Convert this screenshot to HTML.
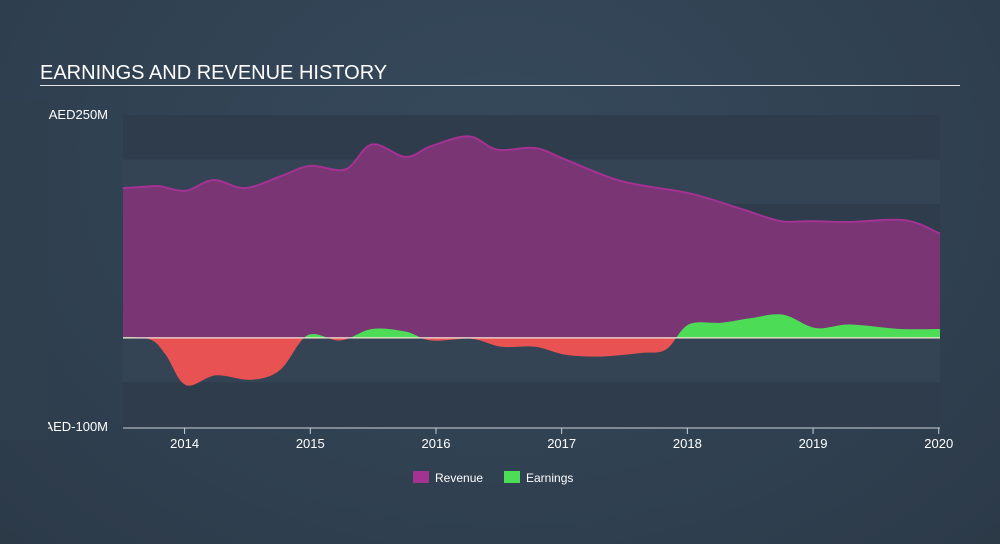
<!DOCTYPE html>
<html><head><meta charset="utf-8"><style>
body{margin:0;width:1000px;height:544px;overflow:hidden;background:radial-gradient(ellipse at 50% 30%,#364a5c 0%,#2f3f4f 70%,#2c3a48 100%);font-family:"Liberation Sans",sans-serif;}
svg{position:absolute;left:0;top:0}
</style></head><body>
<svg id="chart" width="1000" height="544" xmlns="http://www.w3.org/2000/svg">
<text x="40" y="79" fill="#fff" font-size="20">EARNINGS AND REVENUE HISTORY</text>
<line x1="40" y1="85.5" x2="960" y2="85.5" stroke="#e0e4e8" stroke-width="1"/>
<g id="bands"></g>
<g id="series"></g>
<g id="axes"></g>
<g>
<rect x="413" y="471" width="16" height="12" fill="#a33293"/>
<text x="435" y="482" fill="#fff" font-size="12">Revenue</text>
<rect x="504" y="471" width="16" height="12" fill="#4ddc56"/>
<text x="526" y="482" fill="#fff" font-size="12">Earnings</text>
</g>
</svg>
<script>
const revDates=[2013.51,2013.73,2013.81,2014.01,2014.23,2014.48,2014.76,2015.0,2015.28,2015.49,2015.76,2015.96,2016.26,2016.49,2016.79,2017.03,2017.47,2018.02,2018.42,2018.74,2018.98,2019.29,2019.73,2020.01];
const revenue=[168,170,170,165,177,168,181,193,189,217,203,215,226,211,213,200,176,162,145,131,131,130,132,117];
const earnDates=[2013.51,2013.73,2013.85,2014.01,2014.25,2014.53,2014.76,2014.98,2015.24,2015.49,2015.76,2015.96,2016.28,2016.52,2016.79,2017.03,2017.31,2017.63,2017.83,2018.01,2018.27,2018.5,2018.76,2019.02,2019.29,2019.69,2020.01];
const earnings=[1,-2,-19,-53,-42,-47,-36,3,-3,10,7,-3,-1,-10,-10,-19,-21,-17,-13,15,17,22,26,11,15,10,10];
const yTicks=[250,-100];
const yTickLabels=["AED250M","AED-100M"];
const xTicks=[2014,2015,2016,2017,2018,2019,2020];
const X0=123,X1=940,D0=2013.51,D1=2020.01,Y0=115,Y1=427,V0=250,V1=-100;
const xs=d=>X0+(d-D0)/(D1-D0)*(X1-X0);
const ys=v=>Y0+(V0-v)/(V0-V1)*(Y1-Y0);
const NS="http://www.w3.org/2000/svg";
function mk(tag,attrs,parent){const e=document.createElementNS(NS,tag);for(const k in attrs)e.setAttribute(k,attrs[k]);parent.appendChild(e);return e;}
function curve(dates,vals){const p=dates.map((d,i)=>[xs(d),ys(vals[i])]);let s="M"+p[0][0]+","+p[0][1];
for(let i=0;i<p.length-1;i++){const a=p[Math.max(0,i-1)],b=p[i],c=p[i+1],d=p[Math.min(p.length-1,i+2)];
const c1=[b[0]+(c[0]-a[0])/6,b[1]+(c[1]-a[1])/6],c2=[c[0]-(d[0]-b[0])/6,c[1]-(d[1]-b[1])/6];
s+=" C"+c1[0]+","+c1[1]+" "+c2[0]+","+c2[1]+" "+c[0]+","+c[1];}return s;}
const bands=document.getElementById('bands');
for(let v=250;v>-100;v-=50){const dark=((250-v)/50)%2===0;
const r=mk('rect',{x:X0,y:ys(v),width:X1-X0,height:ys(v-50)-ys(v),fill:dark?'#2e3c4b':'#344455'},bands);

}
const g=document.getElementById('series');
const z=ys(0);
const defs=mk('defs',{},g);
const ca=mk('clipPath',{id:'above'},defs);mk('rect',{x:0,y:0,width:1000,height:z},ca);
const cb=mk('clipPath',{id:'below'},defs);mk('rect',{x:0,y:z,width:1000,height:200},cb);
const rc=curve(revDates,revenue);
const ra=mk('path',{d:rc+` L${X1},${z} L${X0},${z} Z`,fill:'#7a3674'},g);


const rl=mk('path',{d:rc,fill:'none',stroke:'#a33293','stroke-width':2},g);


const ec=curve(earnDates,earnings);
const ea=mk('path',{d:ec+` L${X1},${z} L${X0},${z} Z`,fill:'#4ddc56','clip-path':'url(#above)'},g);


const eb=mk('path',{d:ec+` L${X1},${z} L${X0},${z} Z`,fill:'#e85253','clip-path':'url(#below)'},g);


const zl=mk('line',{x1:X0,y1:z,x2:X1,y2:z,stroke:'#f4e4d8','stroke-width':1.2},g);


const ax=document.getElementById('axes');
yTicks.forEach((v,i)=>{const t=mk('text',{x:108,y:ys(v)+4,fill:'#fff','font-size':13,'text-anchor':'end'},ax);t.textContent=yTickLabels[i];

});
const cm=mk('rect',{x:0,y:100,width:48,height:340,fill:'#303f4e'},ax);


const al=mk('line',{x1:X0,y1:428,x2:X1,y2:428,stroke:'#c9d0d8','stroke-width':1},ax);


xTicks.forEach(d=>{const x=xs(d);
const tk=mk('line',{x1:x,y1:428,x2:x,y2:434,stroke:'#c9d0d8'},ax);


const t=mk('text',{x:x,y:448,fill:'#fff','font-size':13,'text-anchor':'middle'},ax);t.textContent=d;

});
</script>
</body></html>
